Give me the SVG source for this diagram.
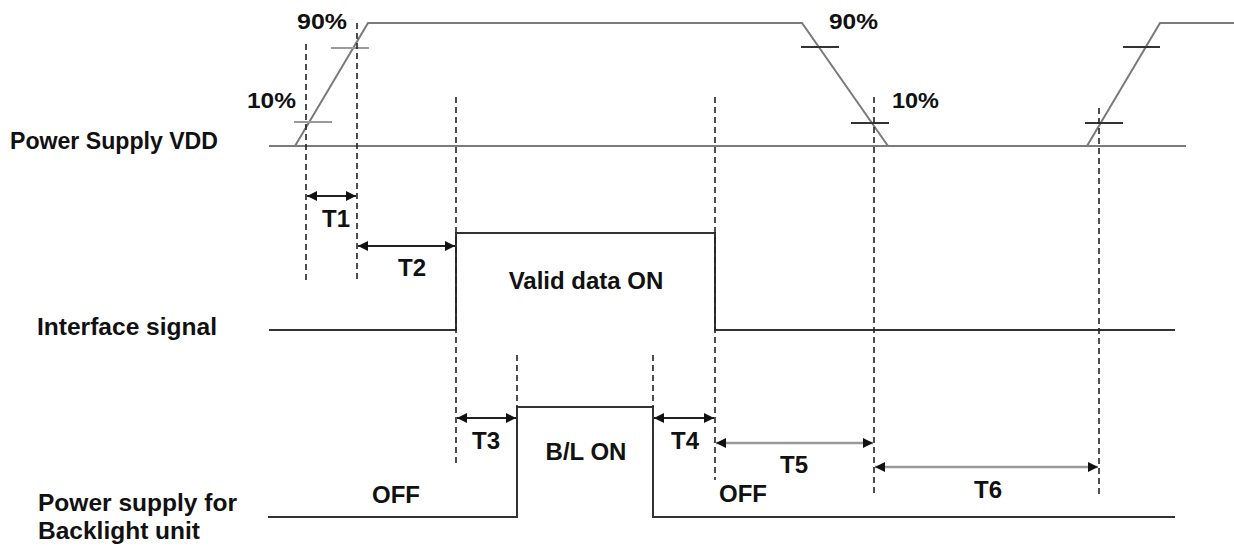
<svg xmlns="http://www.w3.org/2000/svg" width="1234" height="549" viewBox="0 0 1234 549">
<style>
text{font-family:"Liberation Sans",Arial,sans-serif;font-weight:bold;fill:#111}
.lbl{font-size:24px}
.in{font-size:24px;text-anchor:middle}
.pct{font-size:22px}
.vdd{fill:none;stroke:#7a7a7a;stroke-width:2}
.sig{fill:none;stroke:#333;stroke-width:2}
.tickg{stroke:#9a9a9a;stroke-width:2}
.tickd{stroke:#333;stroke-width:2}
.dash{stroke:#222;stroke-width:1.6;stroke-dasharray:6 4;fill:none}
.arr{stroke:#222;stroke-width:2;marker-start:url(#ah);marker-end:url(#ah)}
.arrg{stroke:#999;stroke-width:2.5;marker-start:url(#ah);marker-end:url(#ah)}
</style>
<defs>
<marker id="ah" viewBox="0 0 10 10" refX="10" refY="5" markerWidth="11" markerHeight="10" markerUnits="userSpaceOnUse" orient="auto-start-reverse">
<path d="M0,0 L10,5 L0,10 z" fill="#111"/>
</marker>
</defs>
<rect width="1234" height="549" fill="#fff"/>

<g id="label-vdd"><text class="lbl" x="10" y="149" textLength="208" lengthAdjust="spacingAndGlyphs">Power Supply VDD</text></g>
<g id="label-interface"><text class="lbl" x="37" y="335" textLength="180" lengthAdjust="spacingAndGlyphs">Interface signal</text></g>
<g id="label-backlight">
<text class="lbl" x="38" y="511" textLength="199" lengthAdjust="spacingAndGlyphs">Power supply for</text>
<text class="lbl" x="38" y="539" textLength="162" lengthAdjust="spacingAndGlyphs">Backlight unit</text>
</g>

<g id="wave-vdd">
<line class="vdd" x1="269" y1="146" x2="1186" y2="146"/>
<polyline class="vdd" points="295,146 368,23 802,23 888,146"/>
<polyline class="vdd" points="1087,146 1160,23 1234,23"/>
<line class="tickg" x1="294" y1="122" x2="332" y2="122"/>
<line class="tickg" x1="331" y1="48" x2="369" y2="48"/>
<line class="tickd" x1="801" y1="47" x2="839" y2="47"/>
<line class="tickd" x1="851" y1="123" x2="889" y2="123"/>
<line class="tickd" x1="1085" y1="123" x2="1123" y2="123"/>
<line class="tickd" x1="1123" y1="47" x2="1160" y2="47"/>
<text class="pct" x="297" y="29" textLength="50" lengthAdjust="spacingAndGlyphs">90%</text>
<text class="pct" x="247" y="108" textLength="49" lengthAdjust="spacingAndGlyphs">10%</text>
<text class="pct" x="829" y="29" textLength="49" lengthAdjust="spacingAndGlyphs">90%</text>
<text class="pct" x="892" y="108" textLength="47" lengthAdjust="spacingAndGlyphs">10%</text>
</g>

<g id="wave-interface">
<polyline class="sig" points="269,330 456,330 456,233 715,233 715,330 1175,330"/>
<text class="in" x="586" y="289">Valid data ON</text>
</g>

<g id="wave-backlight">
<polyline class="sig" points="268,517 517,517 517,407 653,407 653,517 1175,517"/>
<text class="in" x="586" y="460">B/L ON</text>
<text class="in" x="396" y="503">OFF</text>
<text class="in" x="743" y="502">OFF</text>
</g>

<g id="connectors">
<line class="dash" x1="306" y1="44" x2="306" y2="283"/>
<line class="dash" x1="357" y1="23" x2="357" y2="283"/>
<line class="dash" x1="456" y1="97" x2="456" y2="467"/>
<line class="dash" x1="715" y1="97" x2="715" y2="480"/>
<line class="dash" x1="874" y1="97" x2="874" y2="496"/>
<line class="dash" x1="1099" y1="108" x2="1099" y2="496"/>
<line class="dash" x1="517" y1="355" x2="517" y2="407"/>
<line class="dash" x1="653" y1="355" x2="653" y2="407"/>

<line class="arr" x1="307" y1="196" x2="356" y2="196"/>
<line class="arr" x1="358" y1="246" x2="455" y2="246"/>
<line class="arr" x1="457" y1="418" x2="516" y2="418"/>
<line class="arr" x1="654" y1="418" x2="714" y2="418"/>
<line class="arrg" x1="716" y1="443" x2="873" y2="443"/>
<line class="arrg" x1="875" y1="467" x2="1098" y2="467"/>
</g>

<g id="timing-labels">
<text class="in" x="336" y="227">T1</text>
<text class="in" x="412" y="276">T2</text>
<text class="in" x="486" y="449">T3</text>
<text class="in" x="685" y="449">T4</text>
<text class="in" x="794" y="473">T5</text>
<text class="in" x="988" y="498">T6</text>
</g>
</svg>
